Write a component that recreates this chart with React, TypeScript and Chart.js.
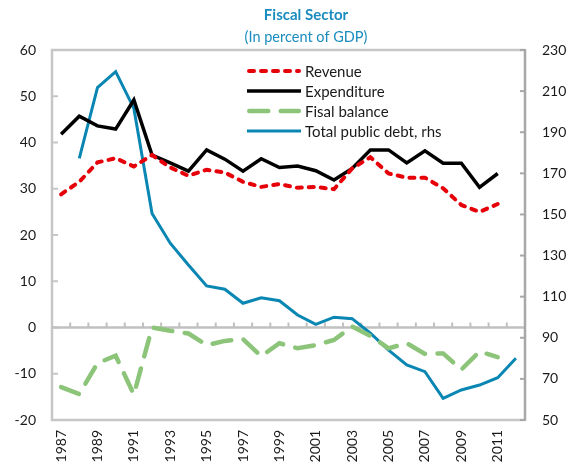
import React, { useEffect, useRef } from 'react';
import { Chart, registerables } from 'chart.js';

Chart.register(...registerables);

const years = ['1987', '1988', '1989', '1990', '1991', '1992', '1993', '1994', '1995', '1996', '1997', '1998', '1999', '2000', '2001', '2002', '2003', '2004', '2005', '2006', '2007', '2008', '2009', '2010', '2011', '2012'];
const revenue = [28.8, 31.5, 35.7, 36.6, 34.8, 37.3, 34.6, 32.8, 34.1, 33.5, 31.5, 30.4, 31.0, 30.2, 30.4, 29.9, 34.4, 36.8, 33.3, 32.4, 32.4, 30.1, 26.5, 25.0, 26.7, null];
const expenditure = [41.8, 45.7, 43.6, 42.9, 49.2, 37.3, 35.6, 33.8, 38.4, 36.4, 33.8, 36.5, 34.6, 34.9, 33.9, 31.9, 34.4, 38.4, 38.4, 35.6, 38.2, 35.5, 35.5, 30.3, 33.3, null];
const fiscalBalance = [-12.9, -14.4, -7.7, -6.1, -14.5, 0.0, -0.7, -1.3, -3.8, -2.9, -2.5, -6.2, -3.4, -4.5, -3.8, -2.7, 0.2, -1.8, -4.5, -3.4, -5.7, -5.6, -9.1, -5.2, -6.4, null];
const publicDebt = [null, 177.3, 211.7, 219.5, 201.6, 150.5, 136.0, 125.4, 115.2, 113.6, 106.8, 109.5, 108.0, 101.1, 96.5, 100.0, 99.3, 92.2, 84.0, 76.8, 73.5, 60.5, 64.6, 67.0, 70.6, 80.0];

const leftTicks = [-20, -10, 0, 10, 20, 30, 40, 50, 60];
const rightTicks = [50, 70, 90, 110, 130, 150, 170, 190, 210, 230];

const titleText = 'Fiscal Sector';
const subtitleText = '(In percent of GDP)';

const FONT = 'Lato, "Open Sans", sans-serif';
const TEXT = '#1a1a1a';

const framePlugin = {
  id: 'frame',
  beforeDatasetsDraw(chart: any) {
    const { ctx, chartArea } = chart;
    const { left, right, top, bottom } = chartArea;
    const yL = chart.scales.y;
    const yR = chart.scales.y1;
    const xS = chart.scales.x;
    ctx.save();
    ctx.lineWidth = 2.5;
    ctx.strokeStyle = '#c6c6c6';
    ctx.beginPath();
    ctx.moveTo(right, top);
    ctx.lineTo(left, top);
    ctx.lineTo(left, bottom);
    ctx.lineTo(right, bottom);
    ctx.stroke();
    ctx.lineWidth = 2;
    leftTicks.forEach((v) => {
      const y = yL.getPixelForValue(v);
      ctx.beginPath();
      ctx.moveTo(left, y);
      ctx.lineTo(left + 6, y);
      ctx.stroke();
    });
    const y0 = yL.getPixelForValue(0);
    ctx.lineWidth = 2.5;
    ctx.strokeStyle = '#c0c0c0';
    ctx.beginPath();
    ctx.moveTo(left, y0);
    ctx.lineTo(right, y0);
    ctx.stroke();
    ctx.lineWidth = 2;
    for (let i = 0; i < years.length - 1; i++) {
      const x = (xS.getPixelForValue(i) + xS.getPixelForValue(i + 1)) / 2;
      ctx.beginPath();
      ctx.moveTo(x, y0);
      ctx.lineTo(x, y0 - 5);
      ctx.stroke();
    }
    ctx.strokeStyle = '#a8a8a8';
    ctx.lineWidth = 2.5;
    ctx.beginPath();
    ctx.moveTo(right, top - 1);
    ctx.lineTo(right, bottom + 1);
    ctx.stroke();
    ctx.lineWidth = 2;
    rightTicks.forEach((v) => {
      const y = yR.getPixelForValue(v);
      ctx.beginPath();
      ctx.moveTo(right, y);
      ctx.lineTo(right - 5, y);
      ctx.stroke();
    });
    ctx.restore();
  },
  afterDraw(chart: any) {
    const { ctx, chartArea } = chart;
    ctx.save();
    ctx.fillStyle = '#1a8cbf';
    ctx.textAlign = 'center';
    ctx.textBaseline = 'middle';
    const cx = chart.width / 2 + 16;
    ctx.font = `bold 15px ${FONT}`;
    ctx.fillText(titleText, cx, 15);
    ctx.font = `14.5px ${FONT}`;
    ctx.fillText(subtitleText, cx, 37);
    const lx = chartArea.left + 195;
    const ly = chartArea.top + 21;
    const rowH = 20;
    ctx.textAlign = 'left';
    chart.data.datasets.forEach((ds: any, i: number) => {
      const y = ly + i * rowH;
      ctx.save();
      ctx.strokeStyle = ds.borderColor;
      ctx.lineWidth = ds.borderWidth;
      ctx.lineCap = ds.borderCapStyle || 'butt';
      ctx.setLineDash(ds.borderDash || []);
      const inset = ds.borderCapStyle === 'round' ? ds.borderWidth / 2 : 0;
      ctx.beginPath();
      ctx.moveTo(lx + inset, y);
      ctx.lineTo(lx + 54 - inset, y);
      ctx.stroke();
      ctx.restore();
      ctx.fillStyle = TEXT;
      ctx.font = `15px ${FONT}`;
      ctx.fillText(ds.label, lx + 58, y + 1);
    });
    ctx.restore();
  },
};

export default function App() {
  const ref = useRef<HTMLCanvasElement | null>(null);
  useEffect(() => {
    document.body.style.margin = '0';
    if (!ref.current) return;
    const tickFont = { family: FONT, size: 14 };
    const chart = new Chart(ref.current, {
      type: 'line',
      data: {
        labels: years,
        datasets: [
          { label: 'Revenue', data: revenue, borderColor: '#e6000a', borderWidth: 4, borderDash: [5, 7], borderCapStyle: 'round', yAxisID: 'y', pointRadius: 0, tension: 0, fill: false },
          { label: 'Expenditure', data: expenditure, borderColor: '#000000', borderWidth: 3.5, yAxisID: 'y', pointRadius: 0, tension: 0, fill: false },
          { label: 'Fisal balance', data: fiscalBalance, borderColor: '#8cc57a', borderWidth: 4.5, borderDash: [19, 12.5], borderCapStyle: 'round', yAxisID: 'y', pointRadius: 0, tension: 0, fill: false },
          { label: 'Total public debt, rhs', data: publicDebt, borderColor: '#0a86b3', borderWidth: 3, yAxisID: 'y1', pointRadius: 0, tension: 0, fill: false },
        ] as any,
      },
      options: {
        responsive: false,
        animation: false,
        layout: { padding: { top: 50, left: 0, right: 0, bottom: 0 } },
        plugins: { legend: { display: false }, tooltip: { enabled: false }, title: { display: false } },
        scales: {
          x: {
            type: 'category',
            offset: true,
            grid: { display: false, drawTicks: false },
            border: { display: false },
            ticks: {
              autoSkip: false,
              minRotation: 90,
              maxRotation: 90,
              padding: 10,
              color: TEXT,
              font: tickFont,
              callback: (_v: any, i: number) => (i % 2 === 0 ? years[i] : ''),
            },
            afterFit: (s: any) => { s.height = 52; },
          },
          y: {
            position: 'left',
            min: -20,
            max: 60,
            grid: { display: false, drawTicks: false },
            border: { display: false },
            ticks: { stepSize: 10, padding: 16, color: TEXT, font: tickFont },
            afterFit: (s: any) => { s.width = 52; },
          },
          y1: {
            position: 'right',
            min: 50,
            max: 230,
            grid: { display: false, drawTicks: false },
            border: { display: false },
            ticks: { stepSize: 20, padding: 17, color: TEXT, font: tickFont },
            afterFit: (s: any) => { s.width = 55; },
          },
        },
      } as any,
      plugins: [framePlugin],
    });
    return () => chart.destroy();
  }, []);
  return (
    <div style={{ width: 580, height: 472 }}>
      <canvas ref={ref} width={580} height={472} style={{ display: 'block' }} />
    </div>
  );
}
